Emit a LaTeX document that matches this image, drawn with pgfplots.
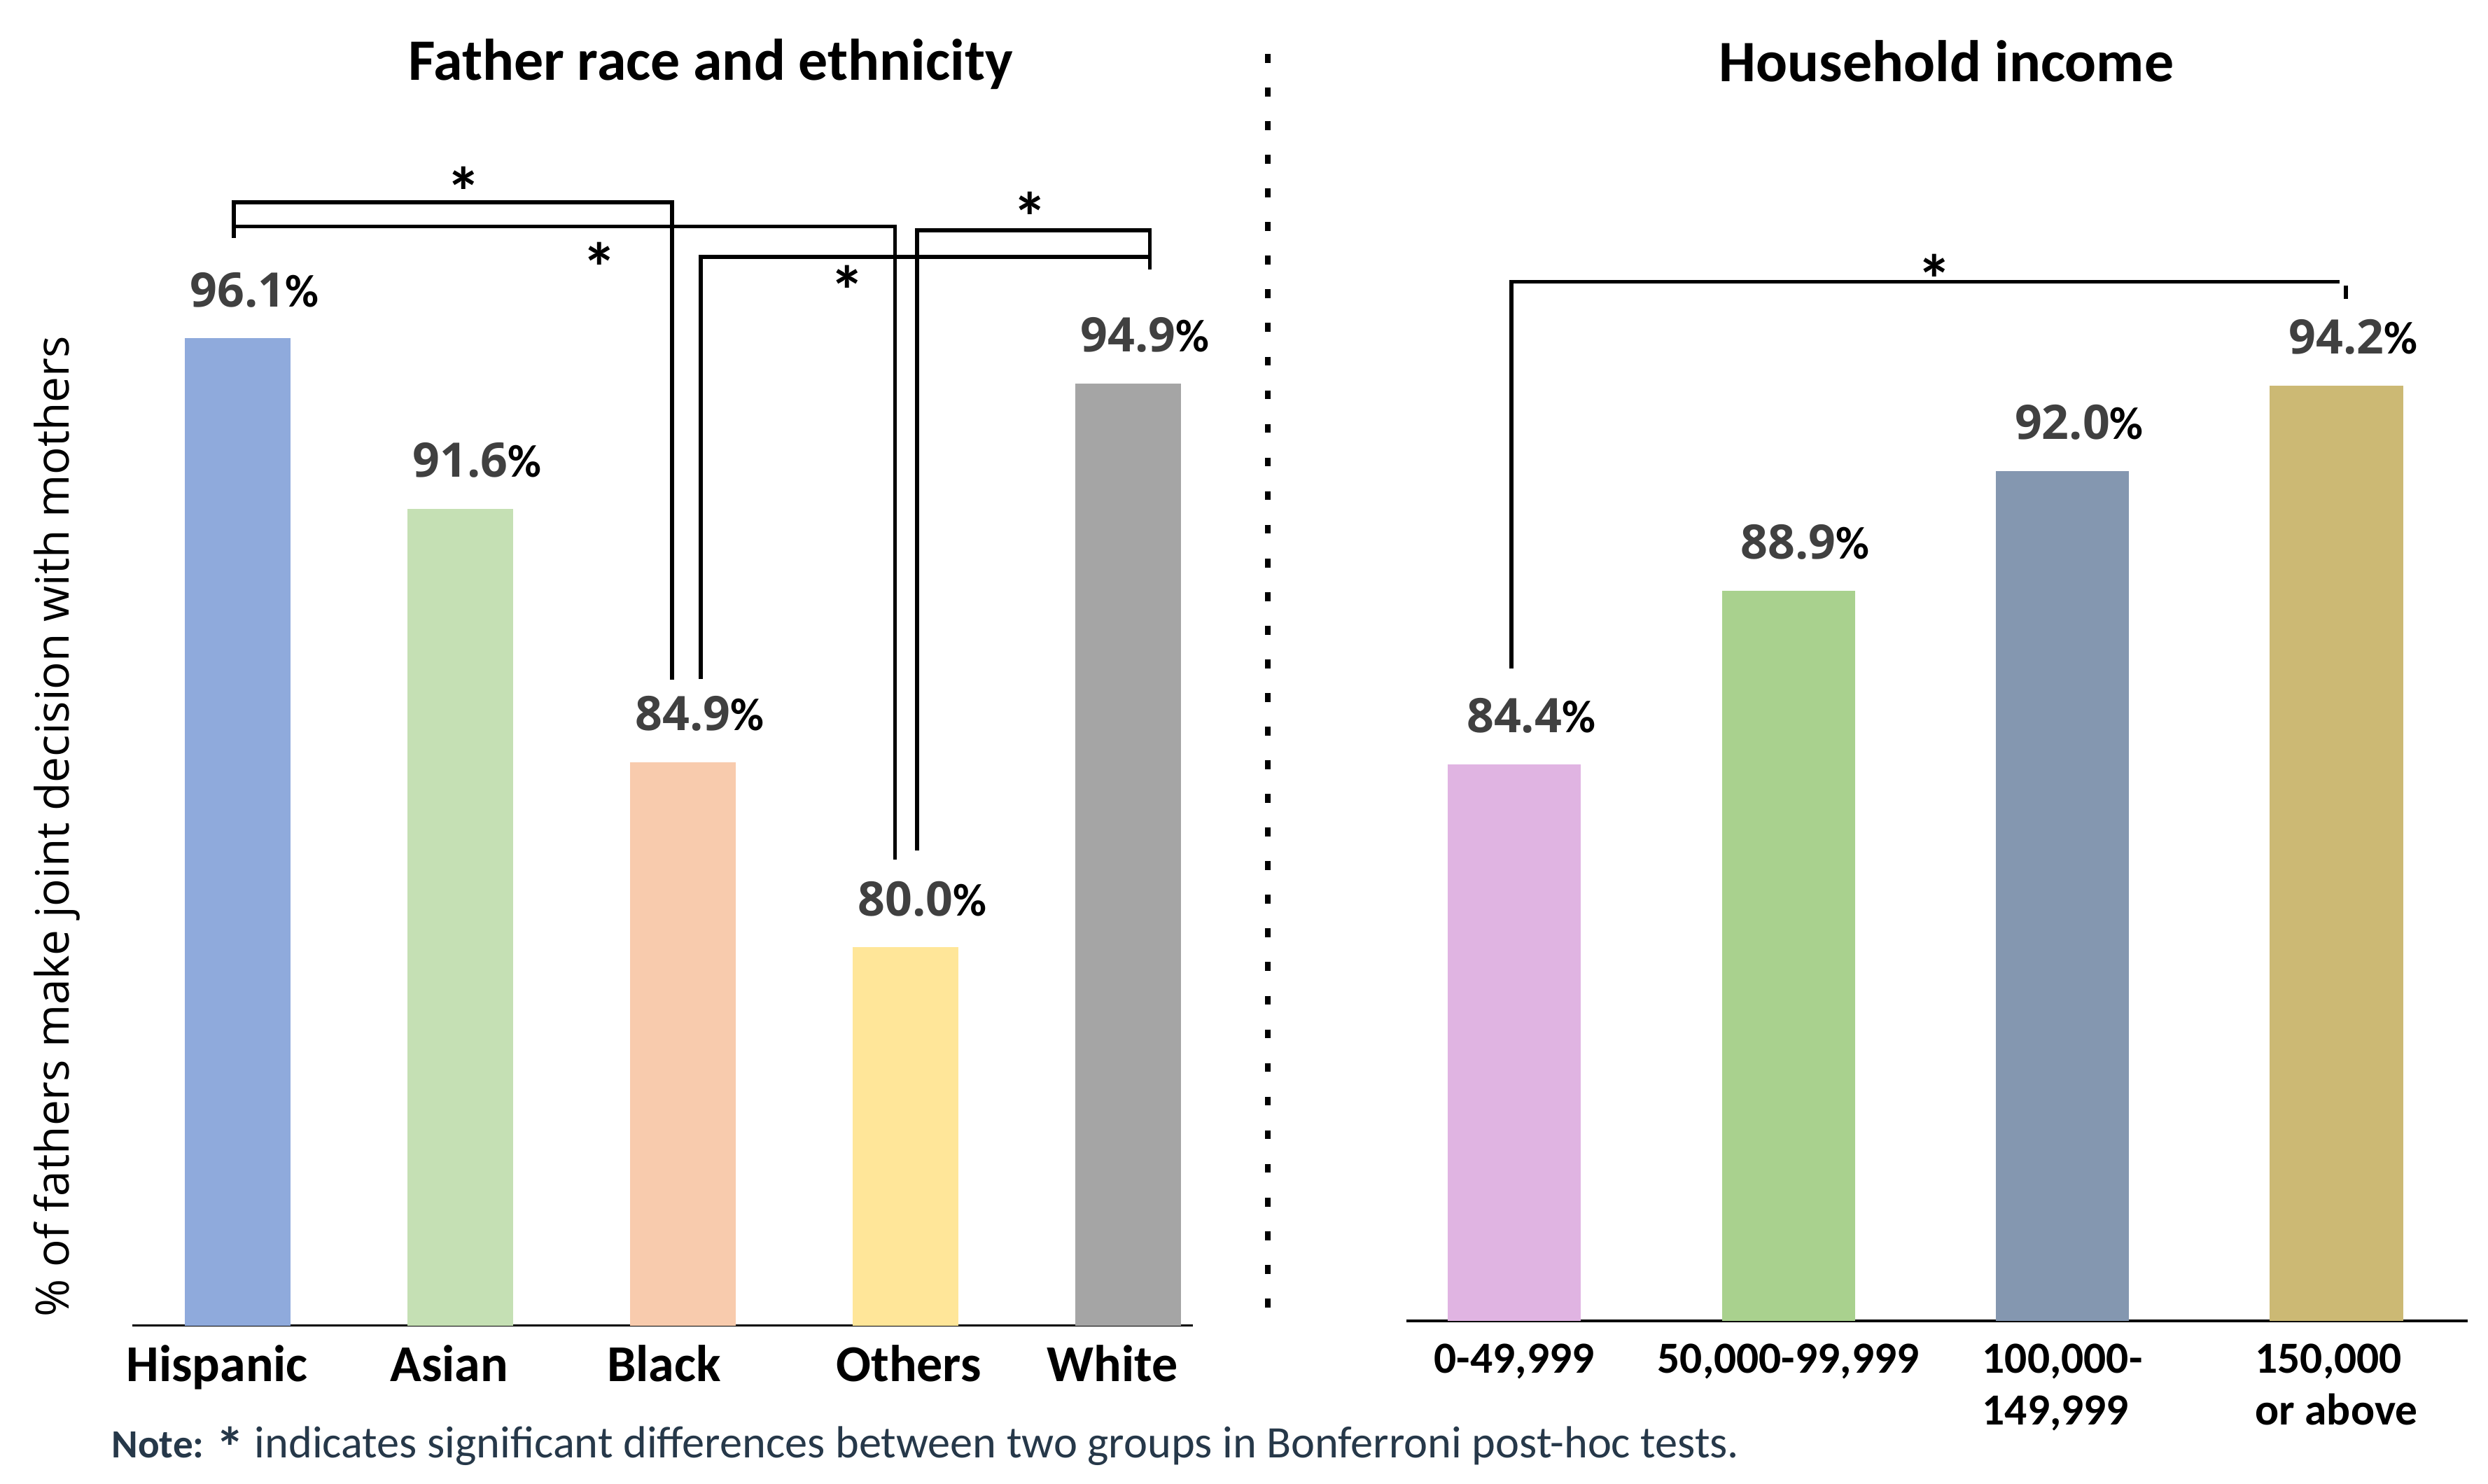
\documentclass[border=0pt]{standalone}
\usepackage{pgfplots}
\pgfplotsset{compat=1.18}
\usepackage{fontspec}
\setmainfont{Carlito}
\newfontfamily\numfont{Open Sans}

\definecolor{hisp}{HTML}{8FAADC}
\definecolor{asian}{HTML}{C5E0B4}
\definecolor{blackgrp}{HTML}{F8CBAD}
\definecolor{others}{HTML}{FFE699}
\definecolor{whitegrp}{HTML}{A5A5A5}
\definecolor{incA}{HTML}{E0B4E2}
\definecolor{incB}{HTML}{A9D18E}
\definecolor{incC}{HTML}{8497B0}
\definecolor{incD}{HTML}{CCB974}
\definecolor{numgray}{HTML}{404040}
\definecolor{notecol}{HTML}{263849}

% value label: grey number, black % hanging to the right
\newcommand{\vallabel}[1]{{\numfont\bfseries\fontsize{15}{15}\selectfont\textcolor{numgray}{#1}}\rlap{\bfseries\fontsize{14.5}{14.5}\selectfont\%}}
% invisible padding to push a tick label off centre
\newcommand{\pad}[1]{\rule{#1}{0pt}}

\pgfplotsset{
  panel/.style={
    scale only axis, anchor=south west,
    ymin=70, ymax=100,
    axis x line=bottom, axis y line=none,
    x axis line style={-, line width=0.75pt},
    major tick length=0pt,
    point meta=y,
    nodes near coords={\vallabel{\pgfmathprintnumber[fixed,fixed zerofill,precision=1,assume math mode=true]{\pgfplotspointmeta}}},
    every node near coord/.append style={anchor=base, inner sep=0pt, yshift=10pt},
  },
  onebar/.style={ybar, bar shift=0pt, draw=none, fill=#1},
}

\begin{document}
\begin{tikzpicture}
% page = 1568 x 935 units of 0.5pt, origin top left
\begin{scope}[x=0.5pt, y=-0.5pt]
  \path[use as bounding box] (0,0) rectangle (1568,934.9);
\end{scope}

\begin{axis}[panel,
  at={(41.75pt,-417.75pt)}, width=334.25pt, height=357.6pt,
  xmin=-0.4726, xmax=4.292,
  xtick={0,1,2,3,4},
  xticklabels={Hispanic\pad{13pt},Asian\pad{7pt},Black\pad{12pt},\pad{2pt}Others,White\pad{10pt}},
  xticklabel style={anchor=base, yshift=-17.5pt, font=\bfseries\fontsize{16.3}{16.3}\selectfont},
]
\addplot[onebar=hisp, bar width=0.477] coordinates {(0,96.1)};
\addplot[onebar=asian, bar width=0.477] coordinates {(1,91.6)};
\addplot[onebar=blackgrp, bar width=0.477] coordinates {(2,84.9)};
\addplot[onebar=others, bar width=0.477] coordinates {(3,80.0)};
\addplot[onebar=whitegrp, bar width=0.477] coordinates {(4,94.9)};
\end{axis}

\begin{axis}[panel,
  at={(443.25pt,-416.25pt)}, width=334.25pt, height=365.25pt,
  xmin=-0.393, xmax=3.478,
  xtick={0,1,2,3},
  xticklabels={{0-49,999},{50,000-99,999},{100,000-\\149,999},{150,000\\or above}},
  xticklabel style={anchor=north, inner sep=0pt, yshift=-7pt, align=left, font=\bfseries\fontsize{14}{16.5}\selectfont},
]
\addplot[onebar=incA, bar width=0.486] coordinates {(0,84.4)};
\addplot[onebar=incB, bar width=0.486] coordinates {(1,88.9)};
\addplot[onebar=incC, bar width=0.486] coordinates {(2,92.0)};
\addplot[onebar=incD, bar width=0.486] coordinates {(3,94.2)};
\end{axis}

\begin{scope}[x=0.5pt, y=-0.5pt]
  % panel titles
  \node[anchor=base, font=\bfseries\fontsize{18.5}{18.5}\selectfont] at (447.8,50.6) {Father race and ethnicity};
  \node[anchor=base, font=\bfseries\fontsize{18.5}{18.5}\selectfont] at (1226.7,51.5) {Household income};
  % y label
  \node[rotate=90, font=\numfont\fontsize{14.5}{14.5}\selectfont] at (36,521) {\% of fathers make joint decision with mothers};
  % divider
  \draw[line width=1.7pt, dash pattern=on 2.8pt off 7.8pt] (799,34) -- (799,826);
  % significance brackets
  \begin{scope}[line width=1.25pt, line join=miter]
    \draw (147.3,150) -- (147.3,127.5) -- (423.5,127.5) -- (423.5,428.5);
    \draw (147.3,142.7) -- (564,142.7) -- (564,541.7);
    \draw (441.7,428) -- (441.7,162) -- (724.6,162);
    \draw (578,536) -- (578,145.3) -- (724.6,145.3) -- (724.6,170);
    \draw (952.6,421.5) -- (952.6,177.6) -- (1474.6,177.6);
    \draw (1478.5,179.8) -- (1478.5,188.3);
  \end{scope}
  \foreach \sx/\sy in {292.2/110.7, 378/158.2, 534/172.8, 649/126.5, 1219/165.8}
    \node[font=\bfseries\fontsize{22}{22}\selectfont, inner sep=0pt, anchor=north] at (\sx,\sy-6) {*};
  % note
  \node[anchor=base west, inner sep=0pt, text=notecol, font=\fontsize{14.2}{14.2}\selectfont] at (70,919)
    {{\bfseries\fontsize{12.6}{12.6}\selectfont Note: \raisebox{-3pt}{\fontsize{18}{18}\selectfont*}} indicates significant differences between two groups in Bonferroni post-hoc tests.};
\end{scope}
\end{tikzpicture}
\end{document}
